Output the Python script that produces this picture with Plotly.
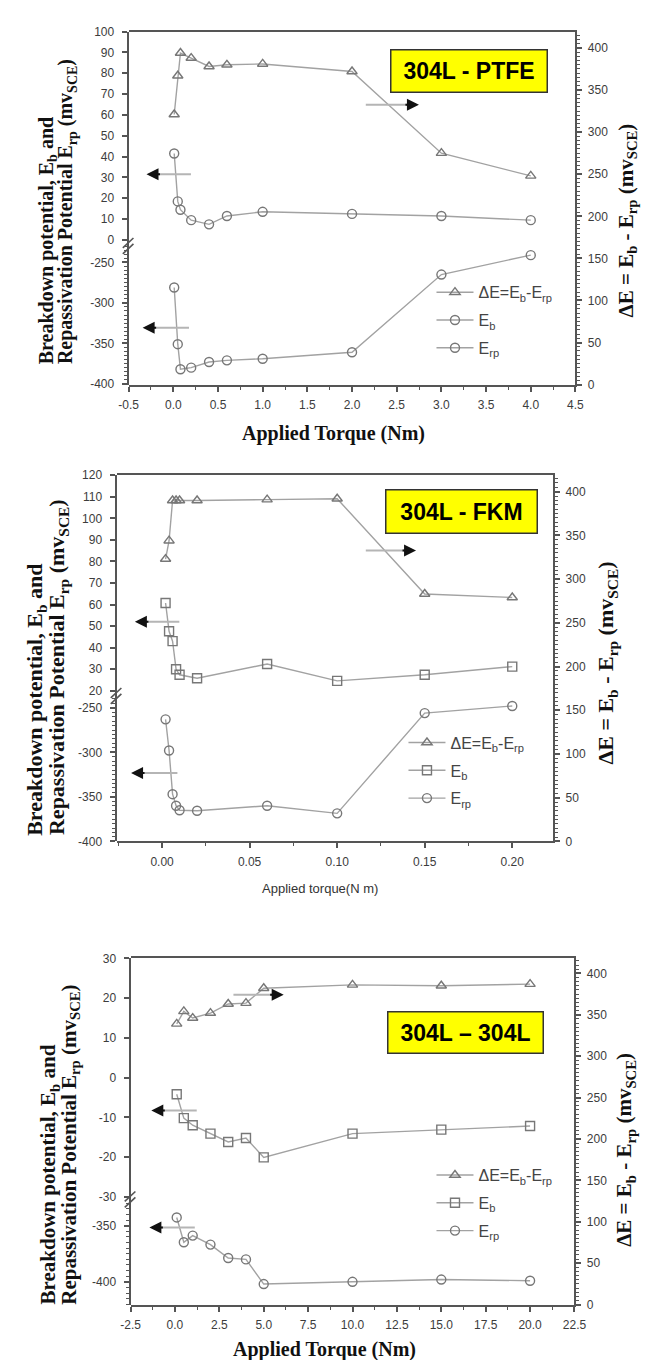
import plotly.graph_objects as go

W, H = 649, 1360

# ---------------- data ----------------
ptfe_torque = [0.01, 0.05, 0.08, 0.2, 0.4, 0.6, 1.0, 2.0, 3.0, 4.0]
ptfe_dE = [321, 367, 394, 388, 378, 380, 381, 372, 275, 248]
ptfe_Eb = [41.5, 18.5, 14.5, 9.5, 7.5, 11.5, 13.5, 12.5, 11.5, 9.5]
ptfe_Erp = [-281, -351, -382, -380, -373, -371, -369, -361, -265, -241]

fkm_torque = [0.002, 0.004, 0.006, 0.008, 0.01, 0.02, 0.06, 0.10, 0.15, 0.20]
fkm_dE = [323, 344, 390, 390, 390, 390, 391, 392, 283, 279]
fkm_Eb = [60.7, 47.6, 43, 30, 27.4, 25.8, 32.4, 24.6, 27.4, 31.2]
fkm_Erp = [-263, -298, -347, -360, -365, -365.6, -360, -368.5, -256, -248]

ss_torque = [0.1, 0.5, 1, 2, 3, 4, 5, 10, 15, 20]
ss_dE = [339, 354, 346, 352, 363, 364, 382, 386, 385, 387]
ss_Eb = [-4.2, -10.2, -12, -14.1, -16.2, -15.2, -20.1, -14.1, -13.1, -12.2]
ss_Erp = [-342.6, -364.7, -358.8, -366.8, -378.8, -380, -402, -400, -398, -399]

# tick values
p1_xticks = [-0.5, 0.0, 0.5, 1.0, 1.5, 2.0, 2.5, 3.0, 3.5, 4.0, 4.5]
p2_xticks = [0.0, 0.05, 0.10, 0.15, 0.20]
p3_xticks = [-2.5, 0.0, 2.5, 5.0, 7.5, 10.0, 12.5, 15.0, 17.5, 20.0, 22.5]
p1_upper_ticks = [0, 10, 20, 30, 40, 50, 60, 70, 80, 90, 100]
p2_upper_ticks = [20, 30, 40, 50, 60, 70, 80, 90, 100, 110, 120]
p3_upper_ticks = [-30, -20, -10, 0, 10, 20, 30]
p1_lower_ticks = [-400, -350, -300, -250]
p2_lower_ticks = [-400, -350, -300, -250]
p3_lower_ticks = [-400, -350]
right_ticks = [0, 50, 100, 150, 200, 250, 300, 350, 400]

labels = ["304L - PTFE", "304L - FKM", "304L \u2013 304L"]
series_names = ["\u0394E=E<sub>b</sub>-E<sub>rp</sub>", "E<sub>b</sub>", "E<sub>rp</sub>"]
left_title_lines = ["Breakdown potential, E<sub>b</sub> and",
                    "Repassivation Potential E<sub>rp</sub> (mv<sub>SCE</sub>)"]
right_title = "\u0394E = E<sub>b</sub> - E<sub>rp</sub> (mv<sub>SCE</sub>)"


def px(x):
    return x / W


def py(y):
    return 1 - y / H


AX_COL = "#555555"
LINE_COL = "#a2a2a2"
MK_COL = "#777777"
SANS = "Liberation Sans, Arial, sans-serif"
SERIF = "Liberation Serif, Times New Roman, serif"
TICK_FONT = dict(family=SANS, size=12, color="#3c3c3c")

panels = [
    dict(x=ptfe_torque, dE=ptfe_dE, Eb=ptfe_Eb, Erp=ptfe_Erp, label=labels[0],
         xpix=(114.5, 577), ypix=(16.7, 233.3, 373.5),
         xrange=[-0.5, 4.5], xticks=p1_xticks, xfmt="{:.1f}", xminor=(0.25, -0.5),
         yu=[-2.85, 100], yuticks=p1_upper_ticks, yl=[-401, -229.6], ylticks=p1_lower_ticks,
         yr=[0, 419.5], eb_symbol="circle-open",
         box=(466.7, 56.3, 158, 44),
         legend=(428, 263), rarrow=(360, 415, 90.7), larrows=[(133, 179, 161), (129, 177, 316)],
         ltitle=(30, 51, 355, 20), rtitle=(630, 208, 21),
         xtitle=("Applied Torque (Nm)", 327, 423, dict(family=SERIF, size=20, color="#111")),
         ),
    dict(x=fkm_torque, dE=fkm_dE, Eb=fkm_Eb, Erp=fkm_Erp, label=labels[1],
         xpix=(102, 554), ypix=(465, 688, 835),
         xrange=[-0.026, 0.2234], xticks=p2_xticks, xfmt="{:.2f}", xminor=(0.025, 0.0),
         yu=[17.6, 120], yuticks=p2_upper_ticks, yl=[-400, -236.7], ylticks=p2_lower_ticks,
         yr=[0, 418.9], eb_symbol="square-open",
         box=(459.5, 501.5, 153, 45),
         legend=(399, 718), rarrow=(360, 412, 541), larrows=[(121, 167, 613), (117, 165, 766)],
         ltitle=(19, 42, 831, 22), rtitle=(610, 655, 22),
         xtitle=("Applied torque(N m)", 313, 883, dict(family=SANS, size=13, color="#333")),
         ),
    dict(x=ss_torque, dE=ss_dE, Eb=ss_Eb, Erp=ss_Erp, label=labels[2],
         xpix=(116.5, 576), ypix=(953.3, 1196.7, 1303),
         xrange=[-2.5, 22.5], xticks=p3_xticks, xfmt="{:.1f}", xminor=(1.25, -2.5),
         yu=[-30.67, 30], yuticks=p3_upper_ticks, yl=[-420.3, -326.5], ylticks=p3_lower_ticks,
         yr=[0, 417.9], eb_symbol="square-open",
         box=(463.5, 1028.5, 157, 43),
         legend=(428, 1155), rarrow=(223, 275, 990), larrows=[(138, 185, 1107), (136, 183, 1225)],
         ltitle=(32, 53, 1305, 21), rtitle=(629, 1147, 21),
         xtitle=("Applied Torque (Nm)", 317.5, 1348, dict(family=SERIF, size=20, color="#111")),
         ),
]

fig = go.Figure()
layout = {}
shapes = []
annotations = []


def yref(n):
    return "y" if n == 1 else f"y{n}"


def yname(n):
    return "yaxis" if n == 1 else f"yaxis{n}"


def fmt_y(v):
    return f"{v:g}"


for i, p in enumerate(panels):
    k = i + 1
    xa = "x" if k == 1 else f"x{k}"
    xname = "xaxis" if k == 1 else f"xaxis{k}"
    lg = "legend" if k == 1 else f"legend{k}"
    yr_id, yu_id, yl_id = 3 * i + 1, 3 * i + 2, 3 * i + 3
    xl, xr = p["xpix"]
    top, brk, bot = p["ypix"]
    common = dict(showgrid=False, zeroline=False, showline=True, linecolor=AX_COL, linewidth=2,
                  ticks="outside", ticklen=5, tickwidth=1.5, tickcolor=AX_COL, tickfont=TICK_FONT,
                  fixedrange=True)
    minor_y = dict(tickmode="linear", dtick=5, tick0=0, ticks="outside", ticklen=2.5,
                   tickcolor=AX_COL, tickwidth=1.2)
    layout[xname] = dict(common, domain=[px(xl), px(xr)], range=p["xrange"], anchor=yref(yr_id),
                         mirror=True, tickmode="array", tickvals=p["xticks"],
                         ticktext=[p["xfmt"].format(v) for v in p["xticks"]],
                         minor=dict(tickmode="linear", dtick=p["xminor"][0], tick0=p["xminor"][1],
                                    ticks="outside", ticklen=3, tickcolor=AX_COL, tickwidth=1.2),
                         ticklabelstandoff=3)
    layout[yname(yr_id)] = dict(common, domain=[py(bot), py(top)], range=p["yr"], anchor=xa, side="right",
                                tickmode="array", tickvals=right_ticks, ticktext=[fmt_y(v) for v in right_ticks],
                                minor=minor_y, ticklabelstandoff=3)
    layout[yname(yu_id)] = dict(common, domain=[py(brk), py(top)], range=p["yu"], anchor=xa, side="left",
                                tickmode="array", tickvals=p["yuticks"], ticktext=[fmt_y(v) for v in p["yuticks"]],
                                ticklabelstandoff=5)
    layout[yname(yl_id)] = dict(common, domain=[py(bot), py(brk)], range=p["yl"], anchor=xa, side="left",
                                tickmode="array", tickvals=p["ylticks"], ticktext=[fmt_y(v) for v in p["ylticks"]],
                                minor=minor_y, ticklabelstandoff=5)

    specs = [
        (p["dE"], yr_id, "triangle-up-open", series_names[0]),
        (p["Eb"], yu_id, p["eb_symbol"], series_names[1]),
        (p["Erp"], yl_id, "circle-open", series_names[2]),
    ]
    for j, (vals, yid, sym, nm) in enumerate(specs):
        fig.add_trace(go.Scatter(
            x=p["x"], y=vals, xaxis=xa, yaxis=yref(yid), mode="lines+markers", name=nm,
            legend=lg, legendgroup=f"p{k}s{j}",
            line=dict(color=LINE_COL, width=1.4),
            marker=dict(symbol=sym, size=9, color=MK_COL, line=dict(width=1.4, color=MK_COL)),
        ))

    layout[lg] = dict(x=px(p["legend"][0]), y=py(p["legend"][1]), xanchor="left", yanchor="top",
                      bgcolor="rgba(0,0,0,0)", borderwidth=0, traceorder="grouped", tracegroupgap=4,
                      itemwidth=37, font=dict(family=SANS, size=16, color="#444"))

    # axis break marks
    for off in (-3, 3):
        shapes.append(dict(type="line", xref="paper", yref="paper",
                           x0=px(xl - 6), y0=py(brk + 5 + off), x1=px(xl + 5), y1=py(brk - 5 + off),
                           line=dict(color=AX_COL, width=1.6)))

    # label box
    bx, by, bw, bh = p["box"]
    annotations.append(dict(x=px(bx), y=py(by), xref="paper", yref="paper", showarrow=False,
                            text=p["label"], width=bw - 3, height=bh - 3, bgcolor="#ffff00",
                            bordercolor="#333", borderwidth=1.5, borderpad=0,
                            font=dict(family=SANS, size=23, color="#000", weight="bold"),
                            xanchor="center", yanchor="middle"))

    # arrows: right-pointing
    a0, a1, ay = p["rarrow"]
    shapes.append(dict(type="line", xref="paper", yref="paper", x0=px(a0), y0=py(ay), x1=px(a1 - 10), y1=py(ay),
                       line=dict(color="#b5b5b5", width=2)))
    annotations.append(dict(x=px(a1), y=py(ay), xref="paper", yref="paper", ax=-15, ay=0, showarrow=True,
                            text="", arrowhead=2, arrowsize=1.2, arrowwidth=2, arrowcolor="#111"))
    for (h0, h1, ly) in p["larrows"]:
        shapes.append(dict(type="line", xref="paper", yref="paper", x0=px(h0 + 10), y0=py(ly), x1=px(h1), y1=py(ly),
                           line=dict(color="#b5b5b5", width=2)))
        annotations.append(dict(x=px(h0), y=py(ly), xref="paper", yref="paper", ax=15, ay=0, showarrow=True,
                                text="", arrowhead=2, arrowsize=1.2, arrowwidth=2, arrowcolor="#111"))

    # axis titles
    c1, c2, lbot, lfs = p["ltitle"]
    for cx, line_text in zip((c1, c2), left_title_lines):
        annotations.append(dict(x=px(cx), y=py(lbot), xref="paper", yref="paper", showarrow=False,
                                textangle=-90, xanchor="center", yanchor="bottom", text=line_text,
                                font=dict(family=SERIF, size=lfs, color="#111", weight="bold")))
    rx, ryc, rfs = p["rtitle"]
    annotations.append(dict(x=px(rx), y=py(ryc), xref="paper", yref="paper", showarrow=False, textangle=-90,
                            xanchor="center", yanchor="middle", text=right_title,
                            font=dict(family=SERIF, size=rfs, color="#111", weight="bold")))
    t, tx, ty, tf = p["xtitle"]
    tfont = dict(tf)
    if tf["family"] == SERIF:
        tfont["weight"] = "bold"
    annotations.append(dict(x=px(tx), y=py(ty), xref="paper", yref="paper", showarrow=False, text=t,
                            xanchor="center", yanchor="middle", font=tfont))

layout.update(dict(width=W, height=H, margin=dict(l=0, r=0, t=0, b=0), autosize=False,
                   paper_bgcolor="white", plot_bgcolor="rgba(0,0,0,0)", showlegend=True,
                   shapes=shapes, annotations=annotations))
fig.update_layout(**layout)
fig.write_html("out.html", config={"displayModeBar": False})
